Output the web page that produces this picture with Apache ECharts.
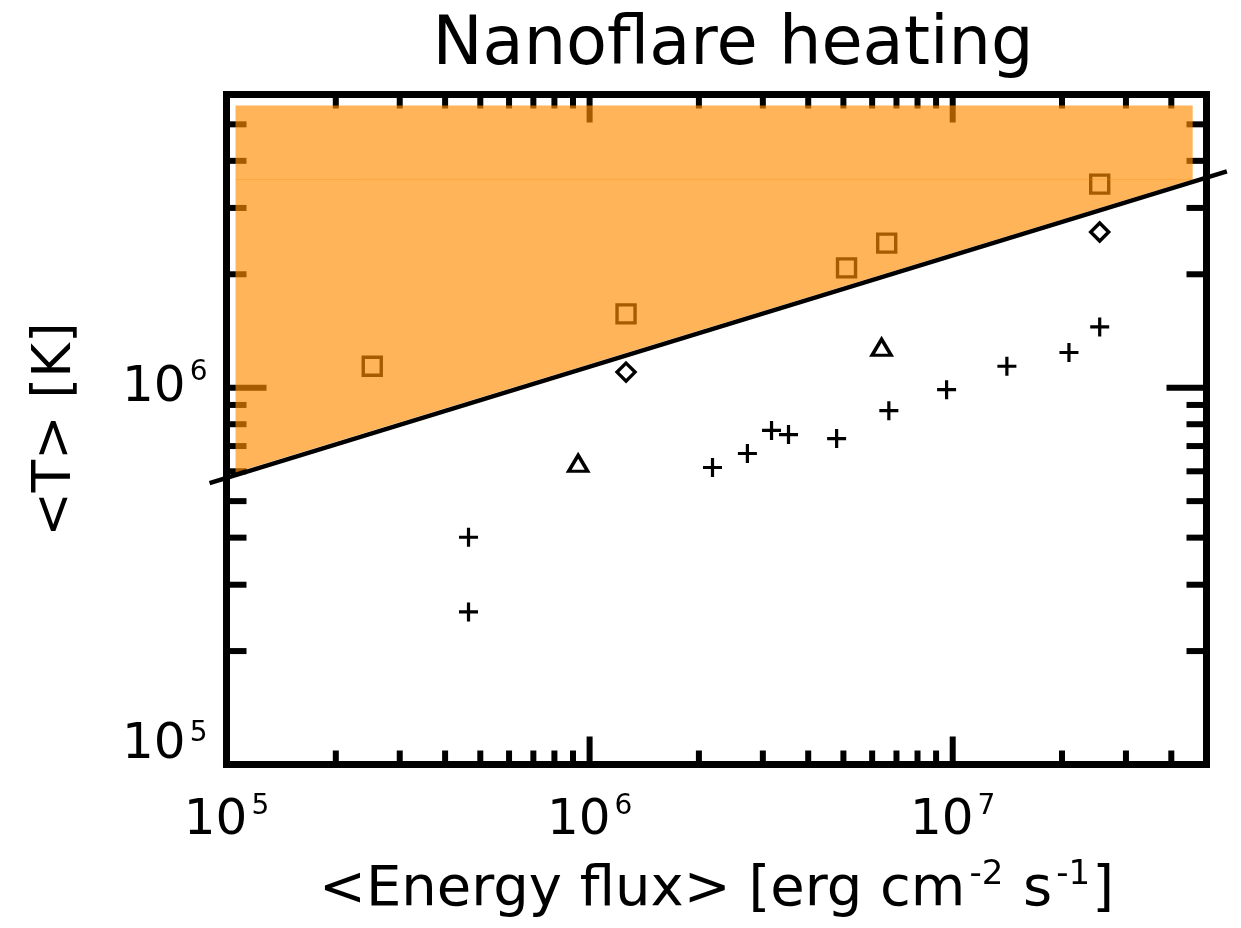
<!DOCTYPE html>
<html><head><meta charset="utf-8">
<script src="https://cdn.jsdelivr.net/npm/echarts@6/dist/echarts.min.js"></script>
<style>html,body{margin:0;padding:0;background:#fff}#c{width:1241px;height:928px}</style>
</head><body><div id="c"></div>
<script>
// ---- data ----
const squareX   = [2.52e5, 1.26e6, 5.1e6, 6.58e6, 2.54e7];
const squareT   = [1.14e6, 1.57e6, 2.08e6, 2.42e6, 3.47e6];
const diamondX  = [1.26e6, 2.54e7];
const diamondT  = [1.10e6, 2.59e6];
const triangleX = [9.3e5, 6.37e6];
const triangleT = [6.3e5, 1.28e6];
const plusX = [4.64e5, 4.64e5, 2.18e6, 2.72e6, 3.17e6, 3.53e6, 4.79e6, 6.67e6, 9.62e6, 1.41e7, 2.09e7, 2.54e7];
const plusT = [4.01e5, 2.54e5, 6.14e5, 6.69e5, 7.7e5, 7.51e5, 7.33e5, 8.69e5, 9.88e5, 1.14e6, 1.24e6, 1.45e6];
const fitLineX = [8.98e4, 5.69e7];
const fitLineT = [5.58e5, 3.75e6];
const regionX = [1.059e5, 4.58e7, 4.58e7, 1.059e5];
const regionT = [5.61e6, 5.61e6, 3.57e6, 5.96e5];
const xMin = 1e5, xMax = 5e7, yMin = 1e5, yMax = 6e6;
const xLabelTicks = [1e5, 1e6, 1e7];
const yLabelTicks = [1e5, 1e6];
const xMajorTicks = [1e5, 1e6, 1e7];
const xMinorTicks = [2e5,3e5,4e5,5e5,6e5,7e5,8e5,9e5,2e6,3e6,4e6,5e6,6e6,7e6,8e6,9e6,2e7,3e7,4e7];
const yMajorTicks = [1e5, 1e6];
const yMinorTicks = [2e5,3e5,4e5,5e5,6e5,7e5,8e5,9e5,2e6,3e6,4e6,5e6];

const FONT = 'DejaVu Sans';

function isLabelTick(v, list){
  return list.some(t => Math.abs(Math.log10(v) - Math.log10(t)) < 1e-6);
}
function fmt(list, raiseMin){
  return function(v){
    if (!isLabelTick(v, list)) return '';
    const e = Math.round(Math.log10(v));
    if (raiseMin && Math.abs(v - list[0]) < 1) return '{b2|10}{s2|' + e + '}';
    return '{b|10}{s|' + e + '}';
  };
}
const labelRich = {
  b:  {fontFamily: FONT, fontSize: 50, lineHeight: 54, color: '#000'},
  s:  {fontFamily: FONT, fontSize: 28, lineHeight: 28, color: '#000', verticalAlign: 'bottom', padding: [0,0,28,4]},
  b2: {fontFamily: FONT, fontSize: 50, lineHeight: 54, color: '#000', padding: [0,0,38,0]},
  s2: {fontFamily: FONT, fontSize: 28, lineHeight: 28, color: '#000', verticalAlign: 'bottom', padding: [0,0,44,4]}
};

const tickData = [];
xMajorTicks.forEach(v => tickData.push([v, 1e6, 1, 0]));
xMinorTicks.forEach(v => tickData.push([v, 1e6, 0, 0]));
yMajorTicks.forEach(v => tickData.push([1e6, v, 1, 1]));
yMinorTicks.forEach(v => tickData.push([1e6, v, 0, 1]));

function renderTicks(params, api){
  const cs = params.coordSys;
  const major = api.value(2), which = api.value(3);
  const st = {stroke: '#000', lineWidth: 6};
  const ch = [];
  if (which === 0) {
    const px = api.coord([api.value(0), 1e6])[0];
    const len = major ? 28 : 14;
    const yb = cs.y + cs.height, yt = cs.y;
    ch.push({type:'line', shape:{x1:px, y1:yb, x2:px, y2:yb-len}, style:st});
    ch.push({type:'line', shape:{x1:px, y1:yt, x2:px, y2:yt+len}, style:st});
  } else {
    const py = api.coord([1e6, api.value(1)])[1];
    const len = major ? 40 : 20;
    const xl = cs.x, xr = cs.x + cs.width;
    ch.push({type:'line', shape:{x1:xl, y1:py, x2:xl+len, y2:py}, style:st});
    ch.push({type:'line', shape:{x1:xr, y1:py, x2:xr-len, y2:py}, style:st});
  }
  return {type:'group', children: ch};
}

function renderRegion(params, api){
  const pts = regionX.map((x, i) => api.coord([x, regionT[i]]));
  return {type:'polygon', shape:{points: pts}, style:{fill:'rgba(255,140,0,0.65)', stroke:null}};
}
function renderFit(params, api){
  const a = api.coord([fitLineX[0], fitLineT[0]]);
  const b = api.coord([fitLineX[1], fitLineT[1]]);
  return {type:'line', shape:{x1:a[0], y1:a[1], x2:b[0], y2:b[1]}, style:{stroke:'#000', lineWidth:4.5}};
}

const zip = (a, b) => a.map((v, i) => [v, b[i]]);
const hollow = {color: 'rgba(0,0,0,0)', borderColor: '#000', borderWidth: 3.4, opacity: 1};

const chart = echarts.init(document.getElementById('c'), null, {renderer: 'canvas'});
chart.setOption({
  animation: false,
  backgroundColor: '#fff',
  title: {
    text: 'Nanoflare heating',
    left: 728, top: 8, textAlign: 'center',
    textStyle: {fontFamily: FONT, fontSize: 67, fontWeight: 'normal', color: '#000'}
  },
  grid: {
    left: 226.5, top: 94.5, width: 980, height: 670,
    show: true, borderColor: '#000', borderWidth: 7, backgroundColor: 'rgba(0,0,0,0)'
  },
  xAxis: {
    type: 'log', logBase: 10, min: xMin, max: xMax, interval: 1,
    axisLine: {show: false}, axisTick: {show: false}, splitLine: {show: false}, minorTick: {show: false},
    axisLabel: {formatter: fmt(xLabelTicks, false), rich: labelRich, margin: 30, showMinLabel: true, showMaxLabel: true, hideOverlap: false},
    name: '{n|<Energy flux> [erg cm}{s|-2}{n| s}{s|-1}{n|]}',
    nameLocation: 'middle', nameGap: 96,
    nameTextStyle: {rich: {
      n: {fontFamily: FONT, fontSize: 56, lineHeight: 60, color: '#000'},
      s: {fontFamily: FONT, fontSize: 34, lineHeight: 34, color: '#000', verticalAlign: 'bottom', padding: [0,2,28,4]}
    }}
  },
  yAxis: {
    type: 'log', logBase: 10, min: yMin, max: yMax, interval: 1,
    axisLine: {show: false}, axisTick: {show: false}, splitLine: {show: false}, minorTick: {show: false},
    axisLabel: {formatter: fmt(yLabelTicks, true), rich: labelRich, margin: 19, showMinLabel: true, showMaxLabel: true, hideOverlap: false},
    name: '<T> [K]', nameLocation: 'middle', nameGap: 144, nameRotate: 90,
    nameTextStyle: {fontFamily: FONT, fontSize: 53, color: '#000'}
  },
  series: [
    {type: 'custom', z: 1, renderItem: renderTicks, data: tickData, encode: {x: 0, y: 1}, silent: true},
    {type: 'scatter', z: 2, data: zip(squareX, squareT), symbol: 'rect', symbolSize: 18, itemStyle: hollow, silent: true},
    {type: 'custom', z: 3, renderItem: renderRegion, data: [[regionX[0], regionT[0]]], encode: {x: 0, y: 1}, silent: true},
    {type: 'line', z: 3, data: [[regionX[3], regionT[2]], [regionX[2], regionT[2]]], symbol: 'none',
     lineStyle: {color: 'rgba(255,140,0,0.3)', width: 1}, silent: true},
    {type: 'scatter', z: 4, data: zip(diamondX, diamondT), symbol: 'diamond', symbolSize: 18, itemStyle: hollow, silent: true},
    {type: 'scatter', z: 4, data: zip(triangleX, triangleT), symbol: 'triangle', symbolSize: [19, 16], itemStyle: hollow, silent: true},
    {type: 'scatter', z: 4, data: zip(plusX, plusT), symbol: 'path://M0,5L10,5M5,0L5,10', symbolSize: 19,
     itemStyle: {color: 'rgba(0,0,0,0)', borderColor: '#000', borderWidth: 3.2, opacity: 1}, silent: true},
    {type: 'custom', z: 5, renderItem: renderFit, data: [[1e6, 1e6]], encode: {x: 0, y: 1}, silent: true}
  ]
});
</script></body></html>
